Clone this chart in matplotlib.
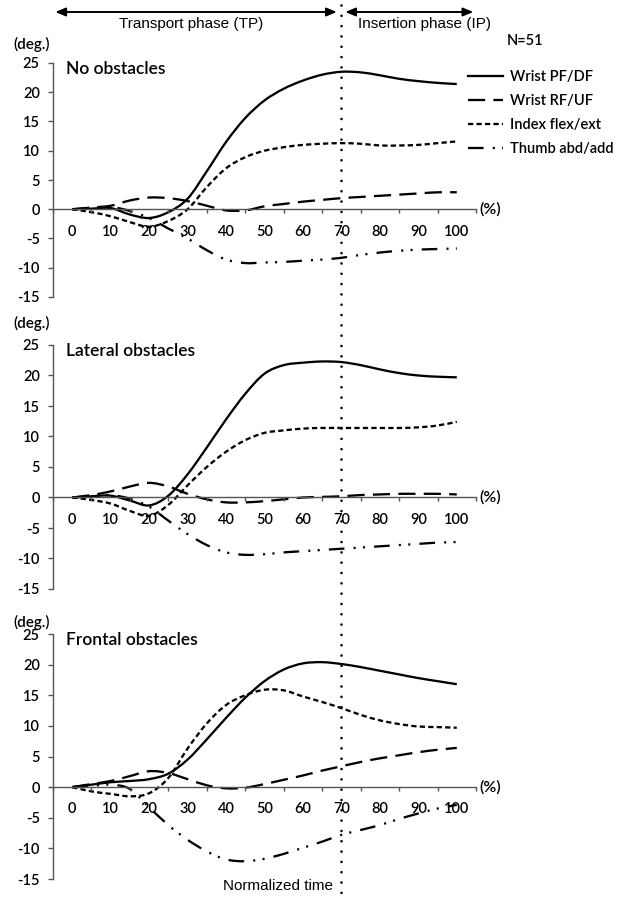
import numpy as np
import matplotlib
matplotlib.use("Agg")
import matplotlib.pyplot as plt
from matplotlib.path import Path
from matplotlib.patches import PathPatch
from matplotlib.lines import Line2D
from matplotlib.transforms import blended_transform_factory

# ---------------- data ----------------
time_pct = [0, 5, 10, 15, 20, 25, 30, 35, 40, 45, 50, 55, 60, 65, 70, 75, 80, 85, 90, 95, 100]
x_tick_labels = ["0", "10", "20", "30", "40", "50", "60", "70", "80", "90", "100"]
y_ticks = [-15, -10, -5, 0, 5, 10, 15, 20, 25]
series_names = ["Wrist PF/DF", "Wrist RF/UF", "Index flex/ext", "Thumb abd/add"]
panel_titles = ["No obstacles", "Lateral obstacles", "Frontal obstacles"]

# No obstacles
no_wrist_pfdf = [0, 0.1, 0.2, -0.9, -1.5, -0.5, 1.8, 6.5, 11.5, 15.6, 18.6, 20.6, 22.0, 23.0, 23.5, 23.4, 22.9, 22.3, 21.9, 21.6, 21.4]
no_wrist_rfuf = [0, 0.3, 0.6, 1.5, 2.0, 1.9, 1.4, 0.6, -0.2, -0.2, 0.5, 0.9, 1.3, 1.6, 1.9, 2.1, 2.3, 2.5, 2.7, 2.9, 2.9]
no_index = [0, -0.5, -1.2, -2.2, -3.0, -2.0, 0.0, 3.8, 7.0, 8.9, 10.0, 10.6, 11.0, 11.2, 11.3, 11.2, 10.9, 10.9, 11.0, 11.3, 11.6]
no_thumb = [0, 0.2, 0.4, -0.3, -1.5, -3.3, -5.0, -7.0, -8.6, -9.2, -9.1, -9.0, -8.8, -8.6, -8.3, -7.8, -7.4, -7.1, -6.9, -6.8, -6.7]

# Lateral obstacles
lat_wrist_pfdf = [0, 0.2, 0.3, -0.5, -1.3, 0.3, 3.8, 8.2, 12.8, 17.0, 20.3, 21.7, 22.1, 22.3, 22.2, 21.7, 21.0, 20.4, 20.0, 19.8, 19.7]
lat_wrist_rfuf = [0, 0.4, 1.0, 1.8, 2.4, 1.8, 0.6, -0.3, -0.8, -0.8, -0.6, -0.3, 0.0, 0.1, 0.2, 0.4, 0.5, 0.6, 0.6, 0.6, 0.5]
lat_index = [0, -0.4, -1.0, -2.2, -3.0, -1.2, 2.0, 5.0, 7.5, 9.4, 10.6, 11.0, 11.3, 11.4, 11.4, 11.4, 11.4, 11.4, 11.5, 11.8, 12.4]
lat_thumb = [0, 0.2, 0.4, -0.2, -1.5, -3.8, -6.0, -7.8, -9.0, -9.4, -9.3, -9.0, -8.8, -8.6, -8.4, -8.2, -8.0, -7.8, -7.6, -7.4, -7.3]

# Frontal obstacles
fro_wrist_pfdf = [0, 0.4, 0.8, 1.0, 1.3, 2.2, 4.5, 7.8, 11.3, 14.6, 17.3, 19.2, 20.2, 20.4, 20.1, 19.6, 19.0, 18.4, 17.8, 17.3, 16.8]
fro_wrist_rfuf = [0, 0.5, 1.0, 1.8, 2.6, 2.3, 1.3, 0.3, -0.2, -0.1, 0.5, 1.2, 1.9, 2.7, 3.4, 4.1, 4.7, 5.2, 5.7, 6.1, 6.4]
fro_index = [0, -0.7, -1.1, -1.5, -1.0, 1.5, 6.3, 10.4, 13.4, 15.0, 15.9, 15.8, 14.8, 13.9, 12.9, 11.8, 10.9, 10.3, 9.9, 9.8, 9.7]
fro_thumb = [0, 0.2, 0.4, -0.3, -3.3, -6.2, -8.6, -10.5, -11.8, -12.1, -11.7, -10.9, -9.9, -8.9, -7.8, -7.0, -6.2, -5.2, -4.3, -3.5, -2.9]

phase_boundary = 70
n_label = "N=51"

# ---------------- styles ----------------
LW = 1.65
styles = [
    dict(linestyle="solid"),
    dict(linestyle=(0, (7.5, 3.6))),
    dict(linestyle=(0, (2.3, 1.4))),
    dict(linestyle=(0, (6.8, 4.0, 0.9, 3.2, 0.9, 4.0))),
]

TICKFONT = "Lato"
TW = "semibold"
ARIAL = "Liberation Sans"

fig = plt.figure(figsize=(6.27, 8.97), dpi=100)
W, H = 627, 897


def axrect(left_px, right_px, top_px, bottom_px):
    return [left_px / W, 1 - bottom_px / H, (right_px - left_px) / W, (bottom_px - top_px) / H]


rects = [axrect(53, 476, 63, 297), axrect(53, 476, 345, 589), axrect(53, 476, 634, 879)]
panels = [
    [no_wrist_pfdf, no_wrist_rfuf, no_index, no_thumb],
    [lat_wrist_pfdf, lat_wrist_rfuf, lat_index, lat_thumb],
    [fro_wrist_pfdf, fro_wrist_rfuf, fro_index, fro_thumb],
]


def smooth_path(xs, ys):
    xs = np.asarray(xs, float)
    ys = np.asarray(ys, float)
    P = np.column_stack([xs, ys])
    n = len(P)
    verts = [P[0]]
    codes = [Path.MOVETO]
    for i in range(n - 1):
        p0 = P[i - 1] if i > 0 else P[i]
        p1 = P[i]
        p2 = P[i + 1]
        p3 = P[i + 2] if i + 2 < n else P[i + 1]
        c1 = p1 + (p2 - p0) / 6.0
        c2 = p2 - (p3 - p1) / 6.0
        verts += [c1, c2, p2]
        codes += [Path.CURVE4] * 3
    return Path(verts, codes)


axes = []
for k, (rect, series) in enumerate(zip(rects, panels)):
    ax = fig.add_axes(rect)
    axes.append(ax)
    ax.set_xlim(-5, 105)
    ax.set_ylim(-15, 25)
    for s, st in zip(series, styles):
        patch = PathPatch(smooth_path(time_pct, s), fill=False, edgecolor="black",
                          linewidth=LW, capstyle="butt", **st)
        ax.add_patch(patch)
    for side in ["top", "right"]:
        ax.spines[side].set_visible(False)
    ax.spines["bottom"].set_position(("data", 0))
    ax.spines["left"].set_color("#555555")
    ax.spines["bottom"].set_color("#555555")
    ax.spines["left"].set_linewidth(1.0)
    ax.spines["bottom"].set_linewidth(1.0)
    ax.set_yticks(y_ticks)
    ax.set_yticklabels([str(v) for v in y_ticks], fontfamily=TICKFONT, fontsize=10.5, fontweight=TW)
    ax.tick_params(axis="y", direction="out", length=3.5, width=1.0, color="#555555", pad=6)
    major = np.arange(-5, 106, 10)
    ax.set_xticks(major)
    ax.set_xticklabels([])
    ax.tick_params(axis="x", which="major", direction="out", length=3, width=1.0, color="#555555")
    ax.set_xticks(np.arange(0, 101, 10), minor=True)
    ax.set_xticklabels(x_tick_labels, minor=True, fontfamily=TICKFONT, fontsize=10.5, fontweight=TW)
    ax.tick_params(axis="x", which="minor", length=0, pad=11)
    ax.patch.set_alpha(0)
    ax.text(105.8, 0, "(%)", ha="left", va="center", fontfamily=TICKFONT, fontsize=11.5, fontweight=TW)
    ax.text(-1.5, 24.0, panel_titles[k], ha="left", va="center", fontfamily=TICKFONT, fontsize=12.5,
            fontweight=TW)

# (deg.) labels
for ax, ypx in zip(axes, [44, 323, 622]):
    fig.text(32 / W, 1 - ypx / H, "(deg.)", ha="center", va="center", fontfamily=TICKFONT, fontsize=11,
             fontweight=TW)

# Vertical phase boundary (dotted)
trans = blended_transform_factory(axes[0].transData, fig.transFigure)
fig.add_artist(Line2D([phase_boundary, phase_boundary], [1 - 5 / H, 1 - 893 / H], transform=trans,
                      color="black", linewidth=1.9, linestyle=(0, (0.01, 3.9)), dash_capstyle="round"))

# Phase arrows at top
y_arrow = 1 - 12 / H
aprops = dict(arrowstyle="<|-|>,head_length=0.6,head_width=0.25", color="black", lw=1.4,
              shrinkA=0, shrinkB=0)
axes[0].annotate("", xy=(-4.4, y_arrow), xytext=(68.8, y_arrow), xycoords=trans, textcoords=trans,
                 arrowprops=aprops, annotation_clip=False)
axes[0].annotate("", xy=(71.0, y_arrow), xytext=(104.3, y_arrow), xycoords=trans, textcoords=trans,
                 arrowprops=aprops, annotation_clip=False)
fig.text(191 / W, 1 - 24 / H, "Transport phase (TP)", ha="center", va="center", fontfamily=ARIAL, fontsize=11)
fig.text(425 / W, 1 - 24 / H, "Insertion phase (IP)", ha="center", va="center", fontfamily=ARIAL, fontsize=11)

# N label and legend
fig.text(507 / W, 1 - 41 / H, n_label, ha="left", va="center", fontfamily=TICKFONT, fontsize=10.5,
         fontweight=TW)
handles = [Line2D([], [], color="black", linewidth=LW, **st) for st in styles]
leg = fig.legend(handles, series_names, loc="upper left", bbox_to_anchor=(455 / W, 1 - 57 / H),
                 frameon=False, handlelength=2.4, handletextpad=0.45, labelspacing=0.68,
                 prop=dict(family=TICKFONT, size=10.5, weight=TW))

# x label
fig.text(278 / W, 1 - 886 / H, "Normalized time", ha="center", va="center", fontfamily=ARIAL, fontsize=11)

fig.savefig("out.png", dpi=100)
